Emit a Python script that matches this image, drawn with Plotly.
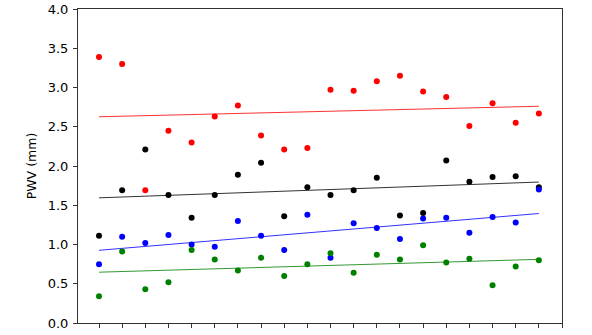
import numpy as np
import plotly.graph_objects as go

# sample index (x tick positions)
idx = list(range(20))

pwv_red = [3.39, 3.30, 1.69, 2.45, 2.30, 2.63, 2.77, 2.39, 2.21, 2.23,
           2.97, 2.96, 3.08, 3.15, 2.95, 2.88, 2.51, 2.80, 2.55, 2.67]
pwv_black = [1.11, 1.69, 2.21, 1.63, 1.34, 1.63, 1.89, 2.04, 1.36, 1.73,
             1.63, 1.69, 1.85, 1.37, 1.40, 2.07, 1.80, 1.86, 1.87, 1.73]
pwv_blue = [0.75, 1.10, 1.02, 1.12, 1.00, 0.97, 1.30, 1.11, 0.93, 1.38,
            0.83, 1.27, 1.21, 1.07, 1.33, 1.34, 1.15, 1.35, 1.28, 1.70]
pwv_green = [0.34, 0.91, 0.43, 0.52, 0.93, 0.81, 0.67, 0.83, 0.60, 0.75,
             0.89, 0.64, 0.87, 0.81, 0.99, 0.77, 0.82, 0.48, 0.72, 0.80]

series = [("red", pwv_red), ("black", pwv_black), ("blue", pwv_blue), ("green", pwv_green)]

fig = go.Figure()
for col, vals in series:
    # linear trend through each series
    k, b = np.polyfit(idx, vals, 1)
    xs = [idx[0], idx[-1]]
    fig.add_trace(go.Scatter(x=xs, y=[k * x + b for x in xs], mode="lines",
                             line=dict(color=col, width=1), opacity=0.8,
                             showlegend=False, hoverinfo="skip"))
for col, vals in series:
    fig.add_trace(go.Scatter(x=idx, y=vals, mode="markers",
                             marker=dict(color=col, size=6),
                             showlegend=False))

axis_common = dict(showline=True, linecolor="#333333", linewidth=1, mirror=True,
                   ticks="outside", ticklen=4, tickwidth=1, tickcolor="#333333",
                   showgrid=False, zeroline=False, automargin=False)

fig.update_layout(
    width=592, height=335,
    margin=dict(l=78, r=30, t=9, b=12),
    plot_bgcolor="white", paper_bgcolor="white",
    font=dict(family="DejaVu Sans", size=13, color="black"),
    xaxis=dict(range=[-0.907, 20], tickvals=list(range(21)),
               showticklabels=False, **axis_common),
    yaxis=dict(range=[0, 4.0], dtick=0.5, tickformat=".1f",
               ticklabelstandoff=2,
               title=dict(text="PWV (mm)", standoff=8, font=dict(size=12.5)),
               **axis_common),
)

# drop the default page margin so the figure sits at the window corner
fig.write_html("out.html", config={"displayModeBar": False},
               post_script="document.body.style.margin='0';")
